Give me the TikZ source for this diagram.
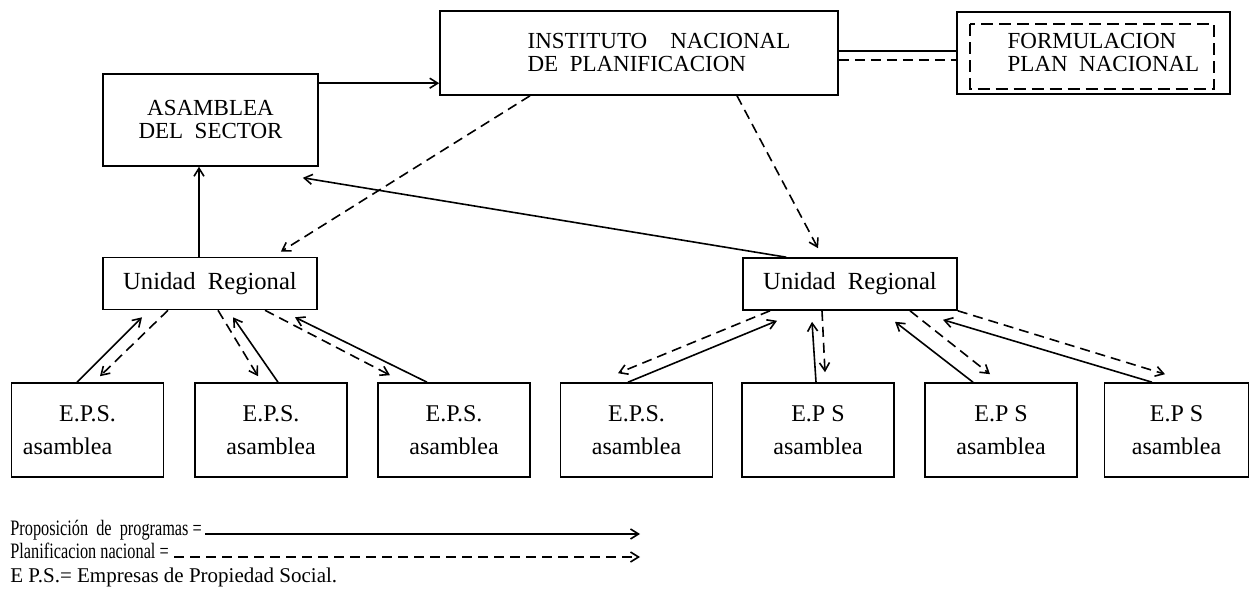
\documentclass[tikz,border=0pt]{standalone}
\usepackage{fontspec}
\setmainfont{Liberation Serif}
\newfontfamily\keyfont[FakeStretch=0.74]{Liberation Serif}
\usetikzlibrary{calc, arrows.meta}

\begin{document}
\begin{tikzpicture}[
  x=0.5pt, y=-0.5pt,
  >={Straight Barb[length=4pt,width=5pt]},
  box/.style={draw, line width=0.8pt, inner sep=0pt, align=center},
  capbox/.style={box, font=\fontsize{11.5}{11.5}\selectfont},
  unitbox/.style={box, minimum width=107pt, minimum height=26pt, font=\fontsize{12.3}{13}\selectfont},
  epsbox/.style={box, minimum width=76pt, minimum height=47pt, font=\fontsize{12}{16.5}\selectfont},
  prop/.style={->, line width=0.8pt},
  plan/.style={->, line width=0.8pt, dash pattern=on 5pt off 3pt},
  keytext/.style={anchor=base west, inner sep=0pt, font=\keyfont\fontsize{11}{13}\selectfont}
]
\useasboundingbox (0,0) rectangle (1252,603);

% upper level
\node[capbox, align=left, minimum width=199pt, minimum height=42pt] (inp) at (639,53)
  {\hspace*{20pt}INSTITUTO\quad NACIONAL\\\hspace*{20pt}DE\ \ PLANIFICACION};
\node[capbox, align=left, minimum width=136.5pt, minimum height=41pt] (form) at (1093.5,53)
  {\hspace*{10pt}FORMULACION\\\hspace*{10pt}PLAN\ \ NACIONAL};
\draw[line width=0.8pt, dash pattern=on 6pt off 3pt]
  ($(form.north west)+(14,13)$) rectangle ($(form.south east)+(-17,-6)$);
\node[capbox, minimum width=107.5pt, minimum height=46pt] (asam) at (210.5,120)
  {ASAMBLEA\\DEL\ \ SECTOR};

% regional units
\node[unitbox] (urL) at (210,283.5) {Unidad\ \ Regional};
\node[unitbox] (urR) at (850,284) {Unidad\ \ Regional};

% E.P.S. boxes
\node[epsbox] (e1) at (87.5,430) {E.P.S.\\asamblea\hspace*{20pt}};
\foreach \x/\name/\lab in {271/e2/E.P.S., 454/e3/E.P.S.,
    636.5/e4/E.P.S., 818/e5/E.P S, 1001/e6/E.P S}
  \node[epsbox] (\name) at (\x,430) {\lab\\asamblea};
\node[epsbox, minimum width=72pt] (e7) at (1176.5,430) {E.P S\\asamblea};

% top connectors
\draw[prop] (asam.north east) ++(0,10) coordinate (a1) -- (a1 -| inp.west);
\draw[line width=0.8pt] ([yshift=1pt]inp.east) -- ([yshift=1pt]inp.east -| form.west);
\draw[line width=0.8pt, dash pattern=on 5pt off 3pt]
  ([yshift=-3.5pt]inp.east) -- ([yshift=-3.5pt]inp.east -| form.west);
\draw[prop] ($(urL.north)+(-11,0)$) coordinate (u1) -- (u1 |- asam.south);
\draw[plan] ($(inp.south)+(-109,0)$) -- ($(urL.north east)+(-37,-5)$);
\draw[plan] ($(inp.south)+(98,0)$) -- ($(urR.north)+(-32,-9)$);
\draw[prop] ($(urR.north west)+(44,0)$) -- ($(asam.south east)+(-16,11)$);

% left unit
\draw[prop] ($(e1.north)+(-10.5,0)$) -- ($(urL.south)+(-68,7)$);
\draw[plan] ($(urL.south)+(-42,0)$) -- ($(e1.north)+(12.5,-6)$);
\draw[plan] ($(urL.south)+(8,0)$) -- ($(e2.north)+(-13,-6)$);
\draw[prop] ($(e2.north)+(7,0)$) -- ($(urL.south)+(23,7)$);
\draw[plan] ($(urL.south)+(55,0)$) -- ($(e3.north)+(-64,-7)$);
\draw[prop] ($(e3.north)+(-27,0)$) -- ($(urL.south)+(85,7)$);

% right unit
\draw[plan] ($(urR.south)+(-80,0)$) -- ($(e4.north)+(-18.5,-9)$);
\draw[prop] ($(e4.north)+(-8.5,0)$) -- ($(urR.south)+(-73,10)$);
\draw[prop] ($(e5.north)+(-2,0)$) -- ($(urR.south)+(-38,11)$);
\draw[plan] ($(urR.south)+(-28,0)$) -- ($(e5.north)+(7,-10)$);
\draw[prop] ($(e6.north)+(-28,0)$) -- ($(urR.south)+(45,11)$);
\draw[plan] ($(urR.south)+(60,0)$) -- ($(e6.north)+(-11,-8)$);
\draw[prop] ($(e7.north)+(-24.5,0)$) -- ($(urR.south)+(93,9)$);
\draw[plan] (urR.south east) -- ($(e7.north)+(-11.5,-8)$);

% key
\node[keytext] (leg1) at (10,536) {Proposición\ \ de\ \ programas\ =};
\node[keytext] (leg2) at (10,559) {Planificacion nacional =};
\node[keytext, font=\fontsize{10.5}{13}\selectfont] (leg3) at (10,582) {E P.S.= Empresas de Propiedad Social.};
\coordinate (keyend) at (640,0);
\draw[prop] ($(leg1.base east)+(3,-2)$) coordinate (k1) -- (k1 -| keyend);
\draw[plan] ($(leg2.base east)+(5,-2)$) coordinate (k2) -- (k2 -| keyend);
\end{tikzpicture}
\end{document}
